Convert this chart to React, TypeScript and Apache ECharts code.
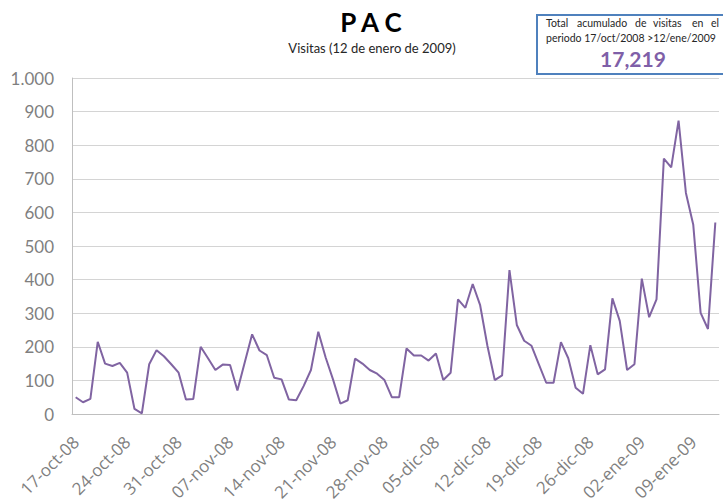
import React, { useEffect, useRef } from "react";
import * as echarts from "echarts";

const startDate = { year: 2008, month: 9, day: 17 };
const monthNames = ["ene", "feb", "mar", "abr", "may", "jun", "jul", "ago", "sep", "oct", "nov", "dic"];

const visits = [
  50, 35, 45, 215, 150, 143, 152, 123, 15, 2,
  148, 190, 172, 148, 123, 43, 45, 200, 166, 131,
  147, 146, 70, 154, 237, 189, 175, 108, 103, 43,
  41, 83, 131, 245, 168, 103, 31, 41, 165, 150,
  131, 120, 101, 50, 50, 195, 174, 174, 159, 180,
  101, 123, 341, 316, 387, 325, 203, 101, 115, 428,
  265, 218, 203, 148, 93, 93, 214, 166, 78, 60,
  205, 118, 133, 344, 277, 131, 148, 403, 288, 341,
  760, 734, 873, 658, 563, 301, 253, 570,
];

const categories: string[] = visits.map((_, i) => {
  const d = new Date(startDate.year, startDate.month, startDate.day + i);
  const dd = String(d.getDate()).padStart(2, "0");
  const yy = String(d.getFullYear() % 100).padStart(2, "0");
  return `${dd}-${monthNames[d.getMonth()]}-${yy}`;
});

const yTicks = [0, 100, 200, 300, 400, 500, 600, 700, 800, 900, 1000];

const titleText = "P A C";
const subtitleText = "Visitas (12 de enero de 2009)";
const boxLine1Words = ["Total", "acumulado", "de", "visitas", "en", "el"];
const boxLine1X = [546, 577, 635, 653, 692, 711];
const boxLine2 = "periodo 17/oct/2008 >12/ene/2009";
const totalText = "17,219";

const FONT = "Lato, 'Noto Sans', sans-serif";
const XFONT = "'Open Sans', Lato, sans-serif";

export default function App() {
  const ref = useRef<HTMLDivElement>(null);
  useEffect(() => {
    document.body.style.margin = "0";
    if (!ref.current) return;
    const chart = echarts.init(ref.current, undefined, { renderer: "svg" });
    const graphics: any[] = [
      {
        type: "text",
        x: 371,
        y: 22,
        style: { text: titleText, font: `bold 26px ${FONT}`, fill: "#000", align: "center", verticalAlign: "middle" },
      },
      {
        type: "text",
        x: 372,
        y: 48,
        style: { text: subtitleText, font: `13px ${FONT}`, fill: "#262626", align: "center", verticalAlign: "middle" },
      },
      {
        type: "rect",
        shape: { x: 537, y: 15, width: 200, height: 59 },
        style: { fill: "#fff", stroke: "#4f81bd", lineWidth: 2 },
      },
      ...boxLine1Words.map((w, i) => ({
        type: "text",
        x: boxLine1X[i],
        y: 23,
        style: { text: w, font: `10.5px ${FONT}`, fill: "#262626", align: "left", verticalAlign: "middle" },
      })),
      {
        type: "text",
        x: 546,
        y: 38,
        style: { text: boxLine2, font: `10.5px ${FONT}`, fill: "#262626", align: "left", verticalAlign: "middle" },
      },
      {
        type: "text",
        x: 633,
        y: 58,
        style: { text: totalText, font: `bold 21px ${FONT}`, fill: "#7f5fa8", align: "center", verticalAlign: "middle" },
      },
    ];
    chart.setOption({
      animation: false,
      grid: { left: 72, right: 4, top: 78, bottom: 88, containLabel: false, outerBoundsMode: "none" },
      xAxis: {
        type: "category",
        data: categories,
        boundaryGap: true,
        axisLine: { show: true, lineStyle: { color: "#bfbfbf", width: 1 } },
        axisTick: { show: false },
        axisLabel: {
          interval: 6,
          rotate: 45,
          margin: 25,
          color: "#7f7f7f",
          fontSize: 17,
          fontFamily: XFONT,
        },
      },
      yAxis: {
        type: "value",
        min: yTicks[0],
        max: yTicks[yTicks.length - 1],
        interval: 100,
        axisLine: { show: true, lineStyle: { color: "#bfbfbf", width: 1 } },
        axisTick: { show: false },
        splitLine: { show: true, lineStyle: { color: "#d4d4d4", width: 1 } },
        axisLabel: {
          margin: 18,
          color: "#7f7f7f",
          fontSize: 17,
          fontFamily: FONT,
          formatter: (v: number) => (v >= 1000 ? v.toLocaleString("de-DE") : String(v)),
        },
      },
      series: [
        {
          type: "line",
          data: visits,
          symbol: "none",
          lineStyle: { color: "#8064a2", width: 2 },
          z: 3,
        },
      ],
      graphic: graphics,
    });
    return () => chart.dispose();
  }, []);
  return <div ref={ref} style={{ width: 723, height: 502 }} />;
}
